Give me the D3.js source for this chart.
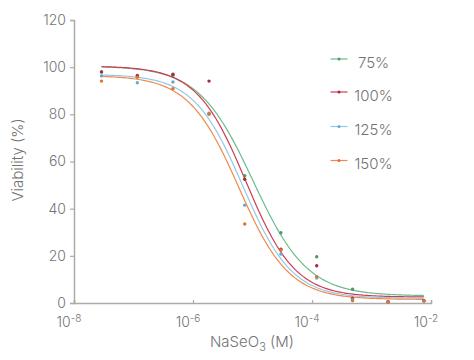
<!DOCTYPE html>
<html><head><meta charset="utf-8">
<script src="https://cdn.jsdelivr.net/npm/d3@7"></script>
<style>body{margin:0;background:#fff}svg{display:block}text{font-family:Inter,"Open Sans",sans-serif;fill:#737373;font-weight:300}</style>
</head><body><svg id="c" width="474" height="360"></svg>
<script>
// Concentrations (M)
const conc = [2.9e-8, 1.16e-7, 4.6e-7, 1.86e-6, 7.4e-6, 3.0e-5, 1.2e-4, 4.8e-4, 1.9e-3, 7.6e-3];
const seriesNames = ["75%", "100%", "125%", "150%"];
const seriesColors = ["#6dbb8a", "#d23a52", "#93c9e8", "#f0894c"];
const markerColors = ["#4e9a6a", "#a8283e", "#6aa9cc", "#e0712e"];
// measured viability (%)
const v75  = [98, 96, 96.5, 80.5, 54, 29.8, 19.6, 5.8, 0.5, 1];
const v100 = [98, 96.5, 97, 94.1, 52.5, 22.8, 15.8, 2.0, 0.5, 1];
const v125 = [96.3, 93.4, 93.7, 80.2, 41.5, 20.8, 10.6, 1.5, 0.4, 0.8];
const v150 = [94.1, 95.7, 90.9, 80, 33.5, 22.5, 11.2, 1, 0.4, 0.8];
// fitted 4PL parameters
const fitTop = [100.5, 100.5, 97, 96.5];
const fitBottom = [3, 2.5, 2, 1.5];
const fitLogIC50 = [-4.99, -5.11, -5.16, -5.23];
const fitHill = [0.95, 1.05, 1.05, 1.03];
const yTicks = [0, 20, 40, 60, 80, 100, 120];
const xTicks = [1e-8, 1e-6, 1e-4, 1e-2];
const xTickExp = ["-8", "-6", "-4", "-2"];

const values = [v75, v100, v125, v150];
const svg = d3.select("#c");
const x = d3.scaleLog().domain([1e-8, 1e-2]).range([74, 431]);
const y = d3.scaleLinear().domain([0, 120]).range([303, 20]);
const axisColor = "#ababab";

// y axis
const ya = svg.append("g").attr("transform", "translate(74,0)")
  .call(d3.axisLeft(y).tickValues(yTicks).tickSize(4).tickPadding(4));
ya.select(".domain").attr("stroke", axisColor).attr("stroke-width", 1.5);
ya.selectAll(".tick line").attr("stroke", axisColor).attr("stroke-width", 1.2);
ya.selectAll(".tick text").attr("font-size", 14).attr("fill", "#737373").style("font-family", "Inter, sans-serif").style("font-weight", 300);

// x axis
const xa = svg.append("g").attr("transform", "translate(0,303)")
  .call(d3.axisBottom(x).tickValues(xTicks).tickSize(-3).tickFormat(() => ""));
xa.select(".domain").attr("stroke", axisColor).attr("stroke-width", 1.5);
xa.selectAll(".tick line").attr("stroke", axisColor).attr("stroke-width", 1.2);
xa.selectAll(".tick text").remove();
xTicks.forEach((t, i) => {
  const tx = svg.append("text").attr("x", x(t) - 5).attr("y", 326.5)
    .attr("text-anchor", "middle").attr("font-size", 14);
  tx.append("tspan").text("10");
  tx.append("tspan").attr("dy", -5).attr("font-size", 10).text(xTickExp[i]);
});

// axis titles
const xt = svg.append("text").attr("x", 252).attr("y", 347).attr("text-anchor", "middle").attr("font-size", 15);
xt.append("tspan").text("NaSeO");
xt.append("tspan").attr("dy", 4).attr("font-size", 11).text("3");
xt.append("tspan").attr("dy", -4).text(" (M)");
svg.append("text").attr("transform", "translate(23,160) rotate(-90)")
  .attr("text-anchor", "middle").attr("font-size", 15).text("Viability (%)");

// curves
const lx = d3.range(0, 201).map(i => Math.log10(conc[0]) + i / 200 * (Math.log10(conc[conc.length-1]) - Math.log10(conc[0])));
const line = d3.line().x(d => x(d[0])).y(d => y(d[1])).curve(d3.curveLinear);
seriesNames.forEach((s, k) => {
  const pts = lx.map(L => [Math.pow(10, L), fitBottom[k] + (fitTop[k] - fitBottom[k]) / (1 + Math.pow(10, fitHill[k] * (L - fitLogIC50[k])))]);
  svg.append("path").attr("d", line(pts)).attr("fill", "none").attr("stroke", seriesColors[k]).attr("stroke-width", 1.2);
});
// points
seriesNames.forEach((s, k) => {
  svg.append("g").selectAll("circle").data(values[k]).join("circle")
    .attr("cx", (d, i) => x(conc[i])).attr("cy", d => y(d)).attr("r", 1.7)
    .attr("fill", markerColors[k]);
});

// legend
const legY = [59, 92, 126.5, 160.5];
seriesNames.forEach((s, k) => {
  const g = svg.append("g");
  g.append("line").attr("x1", 330.5).attr("x2", 347.5).attr("y1", legY[k]).attr("y2", legY[k])
    .attr("stroke", seriesColors[k]).attr("stroke-width", 1.2);
  g.append("circle").attr("cx", 339).attr("cy", legY[k]).attr("r", 1.5).attr("fill", markerColors[k]);
  g.append("text").attr("x", 373.5).attr("y", legY[k] + 8.5).attr("text-anchor", "middle")
    .attr("font-size", 15).text(s);
});
</script></body></html>
